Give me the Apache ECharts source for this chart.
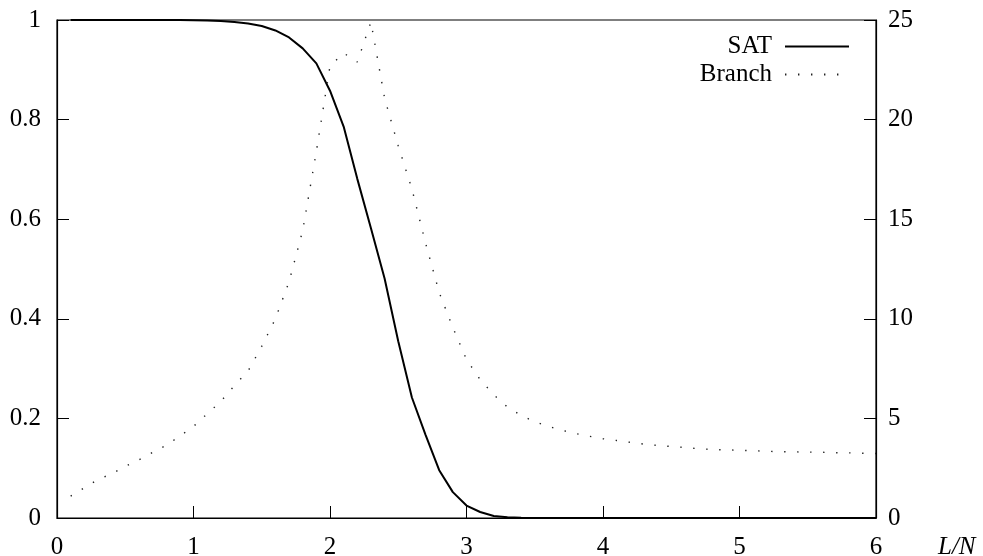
<!DOCTYPE html>
<html>
<head>
<meta charset="utf-8">
<script src="https://cdn.jsdelivr.net/npm/echarts@6/dist/echarts.min.js"></script>
<style>
  html, body { margin: 0; padding: 0; background: #fff; }
  #chart { width: 983px; height: 556px; }
</style>
</head>
<body>
<div id="chart"></div>
<script>
// Clause-to-variable ratio L/N sampled every 0.1
const ratio = [0.1,0.2,0.3,0.4,0.5,0.6,0.7,0.8,0.9,1.0,
  1.1,1.2,1.3,1.4,1.5,1.6,1.7,1.8,1.9,2.0,
  2.1,2.2,2.3,2.4,2.5,2.6,2.7,2.8,2.9,3.0,
  3.1,3.2,3.3,3.4,3.5,3.6,3.7,3.8,3.9,4.0,
  4.1,4.2,4.3,4.4,4.5,4.6,4.7,4.8,4.9,5.0,
  5.1,5.2,5.3,5.4,5.5,5.6,5.7,5.8,5.9,6.0];

// Fraction of satisfiable instances (left axis)
const satProb = [1,1,1,1,1,1,1,1,1,0.9995,
  0.999,0.998,0.996,0.993,0.988,0.979,0.965,0.943,0.913,0.858,
  0.786,0.681,0.582,0.481,0.355,0.242,0.167,0.096,0.052,0.025,
  0.012,0.004,0.0015,0.0005,0.0001,0,0,0,0,0,
  0,0,0,0,0,0,0,0,0,0,
  0,0,0,0,0,0,0,0,0,0];

// Mean number of branches (right axis)
const branches = [1.10,1.52,1.93,2.22,2.59,2.92,3.29,3.65,4.11,4.60,
  5.23,5.85,6.65,7.38,8.62,10.0,11.86,14.43,18.40,22.69,
  23.34,22.89,24.9,21.08,18.68,16.52,13.8,11.32,9.56,7.96,
  6.95,6.18,5.57,5.15,4.83,4.60,4.40,4.24,4.10,3.98,
  3.89,3.80,3.71,3.64,3.59,3.54,3.48,3.44,3.42,3.40,
  3.38,3.35,3.33,3.32,3.31,3.30,3.28,3.27,3.25,3.24];

const leftTicks = { min: 0, max: 1, interval: 0.2 };
const rightTicks = { min: 0, max: 25, interval: 5 };
const xTicks = { min: 0, max: 6, interval: 1 };

const fontFamily = '"Liberation Serif", "DejaVu Serif", serif';
const fontSize = 25;
const labelStyle = { color: '#000', fontFamily: fontFamily, fontSize: fontSize };
const tickStyle = { show: true, inside: true, length: 12, lineStyle: { color: '#000', width: 1 } };
const frameLine = { show: true, lineStyle: { color: '#000', width: 1.2 } };

const chart = echarts.init(document.getElementById('chart'), null, { renderer: 'canvas' });

chart.setOption({
  animation: false,
  backgroundColor: '#fff',
  grid: {
    left: 57, right: 107, top: 20, bottom: 38,
    outerBoundsMode: 'none',
    containLabel: false,
    show: true, borderColor: '#000', borderWidth: 1.2, backgroundColor: 'transparent'
  },
  legend: {
    orient: 'vertical',
    right: 128, top: 29,
    align: 'right',
    itemWidth: 64, itemHeight: 14, itemGap: 3,
    itemStyle: { opacity: 0 },
    textStyle: { color: '#000', fontFamily: fontFamily, fontSize: fontSize, padding: [0, 8, 0, 0] },
    data: ['SAT', 'Branch']
  },
  xAxis: {
    type: 'value',
    min: xTicks.min, max: xTicks.max, interval: xTicks.interval,
    name: 'L/N',
    nameLocation: 'end',
    nameGap: 62,
    nameTextStyle: {
      color: '#000', fontFamily: fontFamily, fontSize: fontSize, fontStyle: 'italic',
      verticalAlign: 'top', padding: [17, 0, 0, 0]
    },
    axisLine: frameLine,
    axisTick: tickStyle,
    axisLabel: Object.assign({ margin: 17 }, labelStyle),
    splitLine: { show: false }
  },
  yAxis: [
    {
      type: 'value', position: 'left',
      min: leftTicks.min, max: leftTicks.max, interval: leftTicks.interval,
      axisLine: frameLine,
      axisTick: tickStyle,
      axisLabel: Object.assign({ margin: 16 }, labelStyle),
      splitLine: { show: false }
    },
    {
      type: 'value', position: 'right',
      min: rightTicks.min, max: rightTicks.max, interval: rightTicks.interval,
      axisLine: frameLine,
      axisTick: tickStyle,
      axisLabel: Object.assign({ margin: 12 }, labelStyle),
      splitLine: { show: false }
    }
  ],
  series: [
    {
      name: 'SAT',
      type: 'line',
      yAxisIndex: 0,
      data: ratio.map((x, i) => [x, satProb[i]]),
      showSymbol: false,
      symbol: 'none',
      lineStyle: { color: '#000', width: 2 },
      itemStyle: { color: '#000' }
    },
    {
      name: 'Branch',
      type: 'line',
      yAxisIndex: 1,
      data: ratio.map((x, i) => [x, branches[i]]),
      showSymbol: false,
      symbol: 'none',
      lineStyle: { color: '#222', width: 1.4, type: [1.4, 11.6] },
      itemStyle: { color: '#222' }
    }
  ]
});
</script>
</body>
</html>
